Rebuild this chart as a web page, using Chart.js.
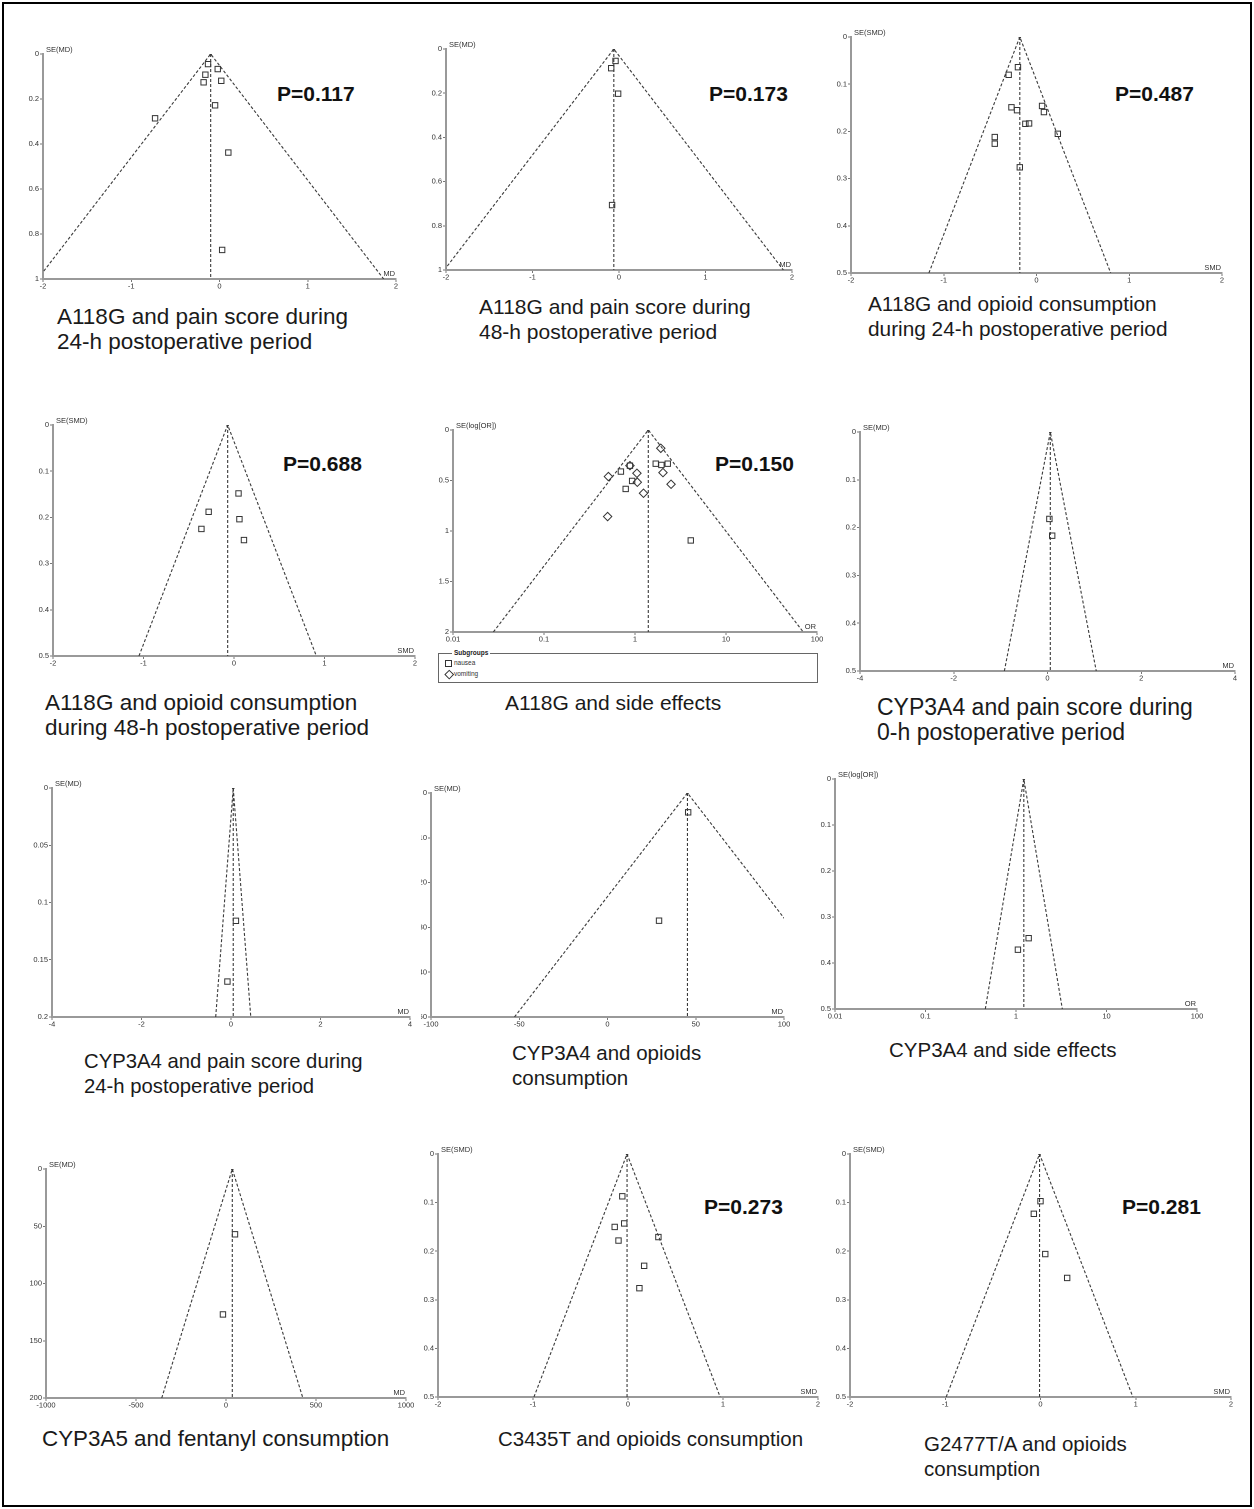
<!DOCTYPE html>
<html><head><meta charset="utf-8">
<script src="https://cdn.jsdelivr.net/npm/chart.js@4"></script>
<style>
body{margin:0;background:#fff;width:1254px;height:1509px;position:relative;overflow:hidden;font-family:"Liberation Sans",Arial,sans-serif;}
.frame{position:absolute;left:2px;top:2px;width:1246px;height:1501px;border:2px solid #000;}
.cap{position:absolute;font-size:20.5px;line-height:25px;color:#1a1a1a;white-space:nowrap;}
.pv{position:absolute;font-size:21px;line-height:25px;font-weight:bold;color:#111;white-space:nowrap;}
canvas{position:absolute;}
.lg{position:absolute;font-size:6.5px;color:#333;white-space:nowrap;}
</style></head><body>
<div class="frame"></div>

<div class="cap" style="left:57px;top:304px;font-size:22.5px">A118G and pain score during<br>24-h postoperative period</div>
<div class="cap" style="left:479px;top:294px;font-size:21px">A118G and pain score during<br>48-h postoperative period</div>
<div class="cap" style="left:868px;top:291px;font-size:20.8px">A118G and opioid consumption<br>during 24-h postoperative period</div>
<div class="cap" style="left:45px;top:690px;font-size:22.5px">A118G and opioid consumption<br>during 48-h postoperative period</div>
<div class="cap" style="left:505px;top:690px;font-size:21px">A118G and side effects</div>
<div class="cap" style="left:877px;top:695px;font-size:23px">CYP3A4 and pain score during<br>0-h postoperative period</div>
<div class="cap" style="left:84px;top:1049px;font-size:20.3px">CYP3A4 and pain score during<br>24-h postoperative period</div>
<div class="cap" style="left:512px;top:1040px">CYP3A4 and opioids<br>consumption</div>
<div class="cap" style="left:889px;top:1037px">CYP3A4 and side effects</div>
<div class="cap" style="left:42px;top:1426px;font-size:22.4px">CYP3A5 and fentanyl consumption</div>
<div class="cap" style="left:498px;top:1426px">C3435T and opioids consumption</div>
<div class="cap" style="left:924px;top:1431px">G2477T/A and opioids<br>consumption</div>

<div class="pv" style="left:277px;top:81px">P=0.117</div>
<div class="pv" style="left:709px;top:81px">P=0.173</div>
<div class="pv" style="left:1115px;top:81px">P=0.487</div>
<div class="pv" style="left:283px;top:451px">P=0.688</div>
<div class="pv" style="left:715px;top:451px">P=0.150</div>
<div class="pv" style="left:704px;top:1194px">P=0.273</div>
<div class="pv" style="left:1122px;top:1194px">P=0.281</div>

<div style="position:absolute;left:438px;top:653px;width:378px;height:28px;border:1px solid #666;"></div>
<div class="lg" style="left:452px;top:649px;font-weight:bold;background:#fff;padding:0 2px;color:#222;">Subgroups</div>
<div style="position:absolute;left:445px;top:660px;width:5px;height:5px;border:1px solid #333;"></div>
<div class="lg" style="left:454px;top:659px;">nausea</div>
<div style="position:absolute;left:446px;top:670.5px;width:4.5px;height:4.5px;border:1px solid #333;transform:rotate(45deg);"></div>
<div class="lg" style="left:454px;top:670px;">vomiting</div>

<script>
// ---------- data ----------
// Panel 1: A118G, pain score 24-h (MD vs SE(MD))
const p1_md = [-0.13, -0.02, -0.16, -0.18, 0.02, -0.05, -0.73, 0.10, 0.03];
const p1_se = [0.045, 0.067, 0.092, 0.126, 0.119, 0.228, 0.286, 0.438, 0.871];
const p1_pooled = -0.10;
// Panel 2: A118G, pain score 48-h
const p2_md = [-0.04, -0.09, -0.01, -0.08];
const p2_se = [0.054, 0.087, 0.202, 0.706];
const p2_pooled = -0.06;
// Panel 3: A118G, opioid consumption 24-h (SMD)
const p3_smd = [-0.20, -0.30, -0.27, -0.21, 0.06, 0.08, -0.12, -0.08, 0.23, -0.45, -0.45, -0.18];
const p3_se = [0.064, 0.080, 0.149, 0.155, 0.146, 0.159, 0.184, 0.183, 0.205, 0.212, 0.226, 0.276];
const p3_pooled = -0.18;
// Panel 4: A118G, opioid consumption 48-h (SMD)
const p4_smd = [0.05, -0.28, 0.06, -0.36, 0.11];
const p4_se = [0.148, 0.188, 0.204, 0.225, 0.249];
const p4_pooled = -0.07;
// Panel 5: A118G, side effects (OR, log scale)
const p5_nausea_or = [0.70, 0.88, 0.93, 0.79, 1.69, 1.95, 2.29, 4.10];
const p5_nausea_se = [0.412, 0.353, 0.504, 0.583, 0.333, 0.346, 0.333, 1.094];
const p5_vomit_or = [0.51, 0.88, 1.05, 1.06, 1.24, 0.50, 1.92, 2.03, 2.49];
const p5_vomit_se = [0.461, 0.353, 0.428, 0.517, 0.626, 0.857, 0.181, 0.422, 0.537];
const p5_pooled = 1.40;
// Panel 6: CYP3A4, pain score 0-h
const p6_md = [0.04, 0.10];
const p6_se = [0.182, 0.217];
const p6_pooled = 0.06;
// Panel 7: CYP3A4, pain score 24-h
const p7_md = [0.11, -0.08];
const p7_se = [0.116, 0.169];
const p7_pooled = 0.05;
// Panel 8: CYP3A4, opioids consumption
const p8_md = [45.7, 29.2];
const p8_se = [4.3, 28.5];
const p8_pooled = 45.3;
// Panel 9: CYP3A4, side effects (OR)
const p9_or = [1.38, 1.05];
const p9_se = [0.346, 0.371];
const p9_pooled = 1.22;
// Panel 10: CYP3A5, fentanyl consumption
const p10_md = [50, -17];
const p10_se = [57, 127];
const p10_pooled = 35;
// Panel 11: C3435T, opioids consumption (SMD)
const p11_smd = [-0.06, -0.04, -0.14, -0.10, 0.32, 0.17, 0.12];
const p11_se = [0.087, 0.143, 0.150, 0.178, 0.171, 0.230, 0.276];
const p11_pooled = -0.01;
// Panel 12: G2477T/A, opioids consumption (SMD)
const p12_smd = [0.00, -0.07, 0.05, 0.28];
const p12_se = [0.097, 0.123, 0.206, 0.255];
const p12_pooled = -0.01;

// tick labels
const ticksSE1 = [0, 0.2, 0.4, 0.6, 0.8, 1];
const ticksSE05 = [0, 0.1, 0.2, 0.3, 0.4, 0.5];
const ticksSE2 = [0, 0.5, 1, 1.5, 2];
const ticksSE02 = [0, 0.05, 0.1, 0.15, 0.2];
const ticksSE50 = [0, 10, 20, 30, 40, 50];
const ticksSE200 = [0, 50, 100, 150, 200];
const ticksX2 = [-2, -1, 0, 1, 2];
const ticksX4 = [-4, -2, 0, 2, 4];
const ticksX100 = [-100, -50, 0, 50, 100];
const ticksX1000 = [-1000, -500, 0, 500, 1000];
const ticksOR = [0.01, 0.1, 1, 10, 100];

const FONT = "'Liberation Sans', Arial, sans-serif";

const titlePlugin = {
  id: 'axisTitles',
  afterDraw(ch, args, o) {
    const ctx = ch.ctx, a = ch.chartArea;
    ctx.save();
    ctx.font = '7.5px ' + FONT;
    ctx.fillStyle = '#333';
    ctx.textBaseline = 'alphabetic';
    ctx.textAlign = 'left';
    ctx.fillText(o.y, a.left + 3, a.top - 2);
    ctx.textAlign = 'right';
    ctx.fillText(o.x, a.right - 1, a.bottom - 3);
    ctx.restore();
  }
};

function panel(o) {
  const padL = 32, padT = 14, padR = 14, padB = 14;
  const c = document.createElement('canvas');
  const w = o.R - o.L + padL + padR, h = o.B - o.T + padT + padB;
  c.width = w; c.height = h;
  c.style.left = (o.L - padL) + 'px'; c.style.top = (o.T - padT) + 'px';
  c.style.width = w + 'px'; c.style.height = h + 'px';
  if (o.clipX) c.style.clipPath = 'inset(0 0 0 ' + (o.clipX - (o.L - padL)) + 'px)';
  document.body.appendChild(c);
  const log = o.xType === 'logarithmic';
  const m = o.pooled, ym = o.yMax;
  const lo = log ? m * Math.exp(-1.96 * ym) : m - 1.96 * ym;
  const hi = log ? m * Math.exp(1.96 * ym) : m + 1.96 * ym;
  const lineDs = (pts) => ({data: pts, showLine: true, borderColor: '#3a3a3a', borderWidth: 1.1,
    borderDash: [3, 2], pointRadius: 0, fill: false, tension: 0});
  const datasets = [
    lineDs([{x: lo, y: ym}, {x: m, y: 0}, {x: hi, y: ym}]),
    lineDs([{x: m, y: 0}, {x: m, y: ym}]),
    {data: [{x: m, y: 0}], pointRadius: 1.3, backgroundColor: '#333', borderWidth: 0}
  ];
  o.series.forEach(s => datasets.push({
    data: s.x.map((v, i) => ({x: v, y: s.y[i]})),
    pointStyle: s.style, pointRadius: s.style === 'rectRot' ? 4.2 : 3.8,
    backgroundColor: 'rgba(0,0,0,0)', borderColor: '#333', borderWidth: 1
  }));
  const tickFont = {size: 7.5, family: FONT};
  const grid = {display: true, drawOnChartArea: false, drawTicks: true, tickLength: 3, color: '#777', lineWidth: 1};
  const border = {display: true, color: '#999', width: 2};
  new Chart(c, {
    type: 'scatter',
    data: {datasets},
    options: {
      responsive: false, animation: false, devicePixelRatio: 2,
      layout: {padding: {left: 0, top: padT, right: padR, bottom: 0}, autoPadding: false},
      plugins: {legend: {display: false}, tooltip: {enabled: false}, axisTitles: {x: o.xTitle, y: o.yTitle}},
      scales: {
        x: {type: o.xType || 'linear', min: o.xMin, max: o.xMax, position: 'bottom', grid, border,
          ticks: {font: tickFont, color: '#333', padding: 0, maxRotation: 0, autoSkip: false, callback: v => String(v)},
          afterBuildTicks: s => { s.ticks = o.xTicks.map(v => ({value: v})); },
          afterFit: s => { s.height = padB; }},
        y: {type: 'linear', reverse: true, min: 0, max: ym, position: 'left', grid, border,
          ticks: {font: tickFont, color: '#333', padding: 1, autoSkip: false, callback: v => String(v)},
          afterBuildTicks: s => { s.ticks = o.yTicks.map(v => ({value: v})); },
          afterFit: s => { s.width = padL; }}
      }
    },
    plugins: [titlePlugin]
  });
}

const sq = 'rect', dm = 'rectRot';
panel({L: 43, T: 54, R: 396, B: 279, xMin: -2, xMax: 2, xTicks: ticksX2, yMax: 1, yTicks: ticksSE1,
  xTitle: 'MD', yTitle: 'SE(MD)', pooled: p1_pooled, series: [{x: p1_md, y: p1_se, style: sq}]});
panel({L: 446, T: 49, R: 792, B: 270, xMin: -2, xMax: 2, xTicks: ticksX2, yMax: 1, yTicks: ticksSE1,
  xTitle: 'MD', yTitle: 'SE(MD)', pooled: p2_pooled, series: [{x: p2_md, y: p2_se, style: sq}]});
panel({L: 851, T: 37, R: 1222, B: 273, xMin: -2, xMax: 2, xTicks: ticksX2, yMax: 0.5, yTicks: ticksSE05,
  xTitle: 'SMD', yTitle: 'SE(SMD)', pooled: p3_pooled, series: [{x: p3_smd, y: p3_se, style: sq}]});
panel({L: 53, T: 425, R: 415, B: 656, xMin: -2, xMax: 2, xTicks: ticksX2, yMax: 0.5, yTicks: ticksSE05,
  xTitle: 'SMD', yTitle: 'SE(SMD)', pooled: p4_pooled, series: [{x: p4_smd, y: p4_se, style: sq}]});
panel({L: 453, T: 430, R: 817, B: 632, xType: 'logarithmic', xMin: 0.01, xMax: 100, xTicks: ticksOR, yMax: 2, yTicks: ticksSE2,
  xTitle: 'OR', yTitle: 'SE(log[OR])', pooled: p5_pooled,
  series: [{x: p5_nausea_or, y: p5_nausea_se, style: sq}, {x: p5_vomit_or, y: p5_vomit_se, style: dm}]});
panel({L: 860, T: 432, R: 1235, B: 671, xMin: -4, xMax: 4, xTicks: ticksX4, yMax: 0.5, yTicks: ticksSE05,
  xTitle: 'MD', yTitle: 'SE(MD)', pooled: p6_pooled, series: [{x: p6_md, y: p6_se, style: sq}]});
panel({L: 52, T: 788, R: 410, B: 1017, xMin: -4, xMax: 4, xTicks: ticksX4, yMax: 0.2, yTicks: ticksSE02,
  xTitle: 'MD', yTitle: 'SE(MD)', pooled: p7_pooled, series: [{x: p7_md, y: p7_se, style: sq}]});
panel({L: 431, T: 793, R: 784, B: 1017, clipX: 421, xMin: -100, xMax: 100, xTicks: ticksX100, yMax: 50, yTicks: ticksSE50,
  xTitle: 'MD', yTitle: 'SE(MD)', pooled: p8_pooled, series: [{x: p8_md, y: p8_se, style: sq}]});
panel({L: 835, T: 779, R: 1197, B: 1009, xType: 'logarithmic', xMin: 0.01, xMax: 100, xTicks: ticksOR, yMax: 0.5, yTicks: ticksSE05,
  xTitle: 'OR', yTitle: 'SE(log[OR])', pooled: p9_pooled, series: [{x: p9_or, y: p9_se, style: sq}]});
panel({L: 46, T: 1169, R: 406, B: 1398, xMin: -1000, xMax: 1000, xTicks: ticksX1000, yMax: 200, yTicks: ticksSE200,
  xTitle: 'MD', yTitle: 'SE(MD)', pooled: p10_pooled, series: [{x: p10_md, y: p10_se, style: sq}]});
panel({L: 438, T: 1154, R: 818, B: 1397, xMin: -2, xMax: 2, xTicks: ticksX2, yMax: 0.5, yTicks: ticksSE05,
  xTitle: 'SMD', yTitle: 'SE(SMD)', pooled: p11_pooled, series: [{x: p11_smd, y: p11_se, style: sq}]});
panel({L: 850, T: 1154, R: 1231, B: 1397, xMin: -2, xMax: 2, xTicks: ticksX2, yMax: 0.5, yTicks: ticksSE05,
  xTitle: 'SMD', yTitle: 'SE(SMD)', pooled: p12_pooled, series: [{x: p12_smd, y: p12_se, style: sq}]});
</script>
</body></html>
